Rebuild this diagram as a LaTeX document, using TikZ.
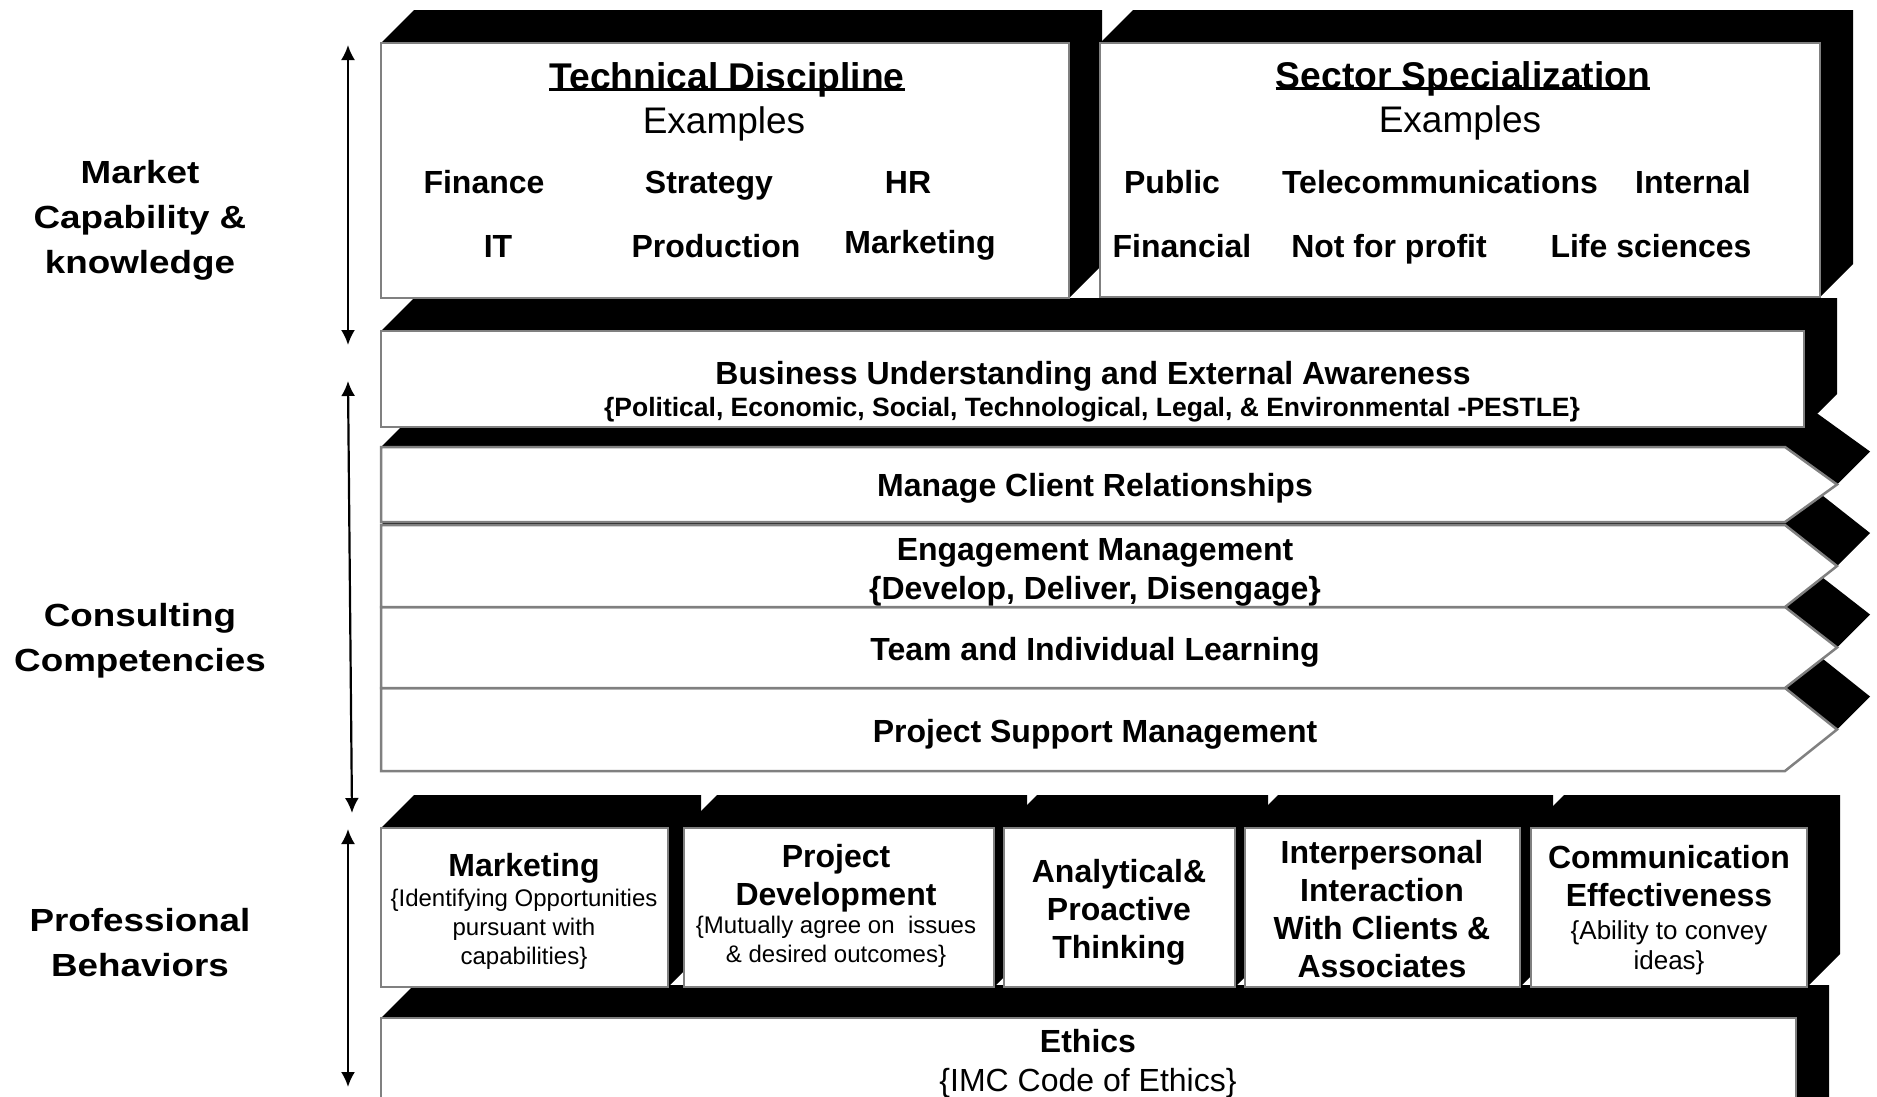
\documentclass[tikz,border=0pt]{standalone}
\usepackage{fontspec}
\setmainfont{Liberation Sans}
\newfontfamily\sidefont{Liberation Sans}[FakeStretch=1.15]
\usetikzlibrary{arrows.meta}

\definecolor{rim}{RGB}{128,128,128}

% block: front face from (#1,#2) to (#3,#4), depth up and to the right
\newcommand{\block}[4]{%
  \fill (#1,#2) -- (#1+33,#2-33) -- (#3+33,#2-33) -- (#3+33,#4-33) -- (#3,#4) -- (#1,#4) -- cycle;
  \draw[face] (#1,#2) rectangle (#3,#4);
}
% arrow-shaped band between y=#1 and y=#2
\newcommand{\band}[2]{%
  \fill (381,#1) -- (414,#1-33) -- (1818,#1-33) -- (1870,{(#1+#2)/2-33}) -- (1837,{(#1+#2)/2}) -- (1785,#2) -- (381,#2) -- cycle;
  \draw[face] (381,#1) -- (1785,#1) -- (1837,{(#1+#2)/2}) -- (1785,#2) -- (381,#2) -- cycle;
}

\begin{document}
\begin{tikzpicture}[x=1pt,y=-1pt,
    face/.style={fill=white,draw=rim,line width=2.5pt},
    title/.style={font=\fontsize{37.2}{43}\selectfont\bfseries,anchor=base,inner xsep=0pt},
    plain/.style={font=\fontsize{37}{43}\selectfont,anchor=base},
    item/.style={font=\fontsize{32}{38}\selectfont\bfseries,align=center},
    note/.style={font=\fontsize{24}{29}\selectfont,align=center},
    sidelabel/.style={font=\sidefont\bfseries\fontsize{32}{45}\selectfont,align=center},
    underline/.style={line width=3pt,yshift=-6pt},
    span/.style={<->,>={Latex[length=15pt,width=14pt]},line width=2.2pt}]
  \useasboundingbox[fill=white] (0,0) rectangle (1877,1096);

  % bottom layer first, so the upper blocks hide the depth of the lower ones
  \block{381}{1018}{1796}{1130}
  \block{381}{828}{668}{987}
  \block{684}{828}{994}{987}
  \block{1004}{828}{1235}{987}
  \block{1245}{828}{1520}{987}
  \block{1531}{828}{1807}{987}
  \band{688}{771}
  \band{607}{688}
  \band{525}{607}
  \band{447}{522}
  \block{381}{331}{1804}{427}
  \block{381}{43}{1069}{298}
  \block{1100}{43}{1820}{297}

  % side labels
  \node[sidelabel] (market) at (140,220) {Market\\Capability \&\\knowledge};
  \node[sidelabel] (consult) at (140,641) {Consulting\\Competencies};
  \node[sidelabel] (prof) at (140,943) {Professional\\Behaviors};
  \coordinate (mtop) at (348,45);
  \coordinate (mbot) at (348,345);
  \coordinate (ctop) at (348,381);
  \coordinate (cbot) at (352,813);
  \coordinate (ptop) at (348,829);
  \coordinate (pbot) at (348,1087);
  \draw[span] (mtop) -- (mbot);
  \draw[span] (ctop) -- (cbot);
  \draw[span] (ptop) -- (pbot);

  % technical discipline
  \node[title] (tech) at (727,89) {Technical Discipline};
  \draw[underline] (tech.base west) -- (tech.base east);
  \node[plain] (techex) at (724,133) {Examples};
  \node[item,anchor=base] (finance) at (484,193) {Finance};
  \node[item,anchor=base] (strategy) at (709,193) {Strategy};
  \node[item,anchor=base] (hr) at (908,193) {HR};
  \node[item,anchor=base] (it) at (498,257) {IT};
  \node[item,anchor=base] (production) at (716,257) {Production};
  \node[item,anchor=base] (marketing) at (920,253) {Marketing};

  % sector specialization
  \node[title] (sector) at (1463,88) {Sector Specialization};
  \draw[underline] (sector.base west) -- (sector.base east);
  \node[plain] (sectorex) at (1460,132) {Examples};
  \node[item,anchor=base] (public) at (1172,193) {Public};
  \node[item,anchor=base] (telecom) at (1440,193) {Telecommunications};
  \node[item,anchor=base] (internal) at (1693,193) {Internal};
  \node[item,anchor=base] (financial) at (1182,257) {Financial};
  \node[item,anchor=base] (nfp) at (1389,257) {Not for profit};
  \node[item,anchor=base] (life) at (1651,257) {Life sciences};

  % business understanding
  \node[item,anchor=base] (business) at (1093,384) {Business Understanding and External Awareness};
  \node[font=\fontsize{26.5}{30}\selectfont\bfseries,anchor=base] (pestle) at (1092,416)
    {\{Political, Economic, Social, Technological, Legal, \& Environmental -PESTLE\}};

  % consulting competencies
  \node[item,anchor=base] (client) at (1095,496) {Manage Client Relationships};
  \node[item,font=\fontsize{32}{39}\selectfont\bfseries] (engage) at (1095,572)
    {Engagement Management\\\{Develop, Deliver, Disengage\}};
  \node[item,anchor=base] (learning) at (1095,660) {Team and Individual Learning};
  \node[item,anchor=base] (support) at (1095,742) {Project Support Management};

  % professional behaviors
  \node[item,anchor=base] (mkt) at (524,876) {Marketing};
  \node[note] (mktnote) at (524,929) {\{Identifying Opportunities\\pursuant with\\capabilities\}};
  \node[item] (projdev) at (836,878) {Project\\Development};
  \node[note] (projnote) at (836,942) {\{Mutually agree on~ issues\\\& desired outcomes\}};
  \node[item] (analytic) at (1119,912) {Analytical\&\\Proactive\\Thinking};
  \node[item] (inter) at (1382,909) {Interpersonal\\Interaction\\With Clients \&\\Associates};
  \node[item] (comm) at (1669,876) {Communication\\Effectiveness};
  \node[note,font=\fontsize{26}{30}\selectfont] (commnote) at (1669,948) {\{Ability to convey\\ideas\}};
  \node[item,anchor=base] (ethics) at (1088,1052) {Ethics};
  \node[font=\fontsize{32}{38}\selectfont,anchor=base] (code) at (1088,1091) {\{IMC Code of Ethics\}};
\end{tikzpicture}
\end{document}
